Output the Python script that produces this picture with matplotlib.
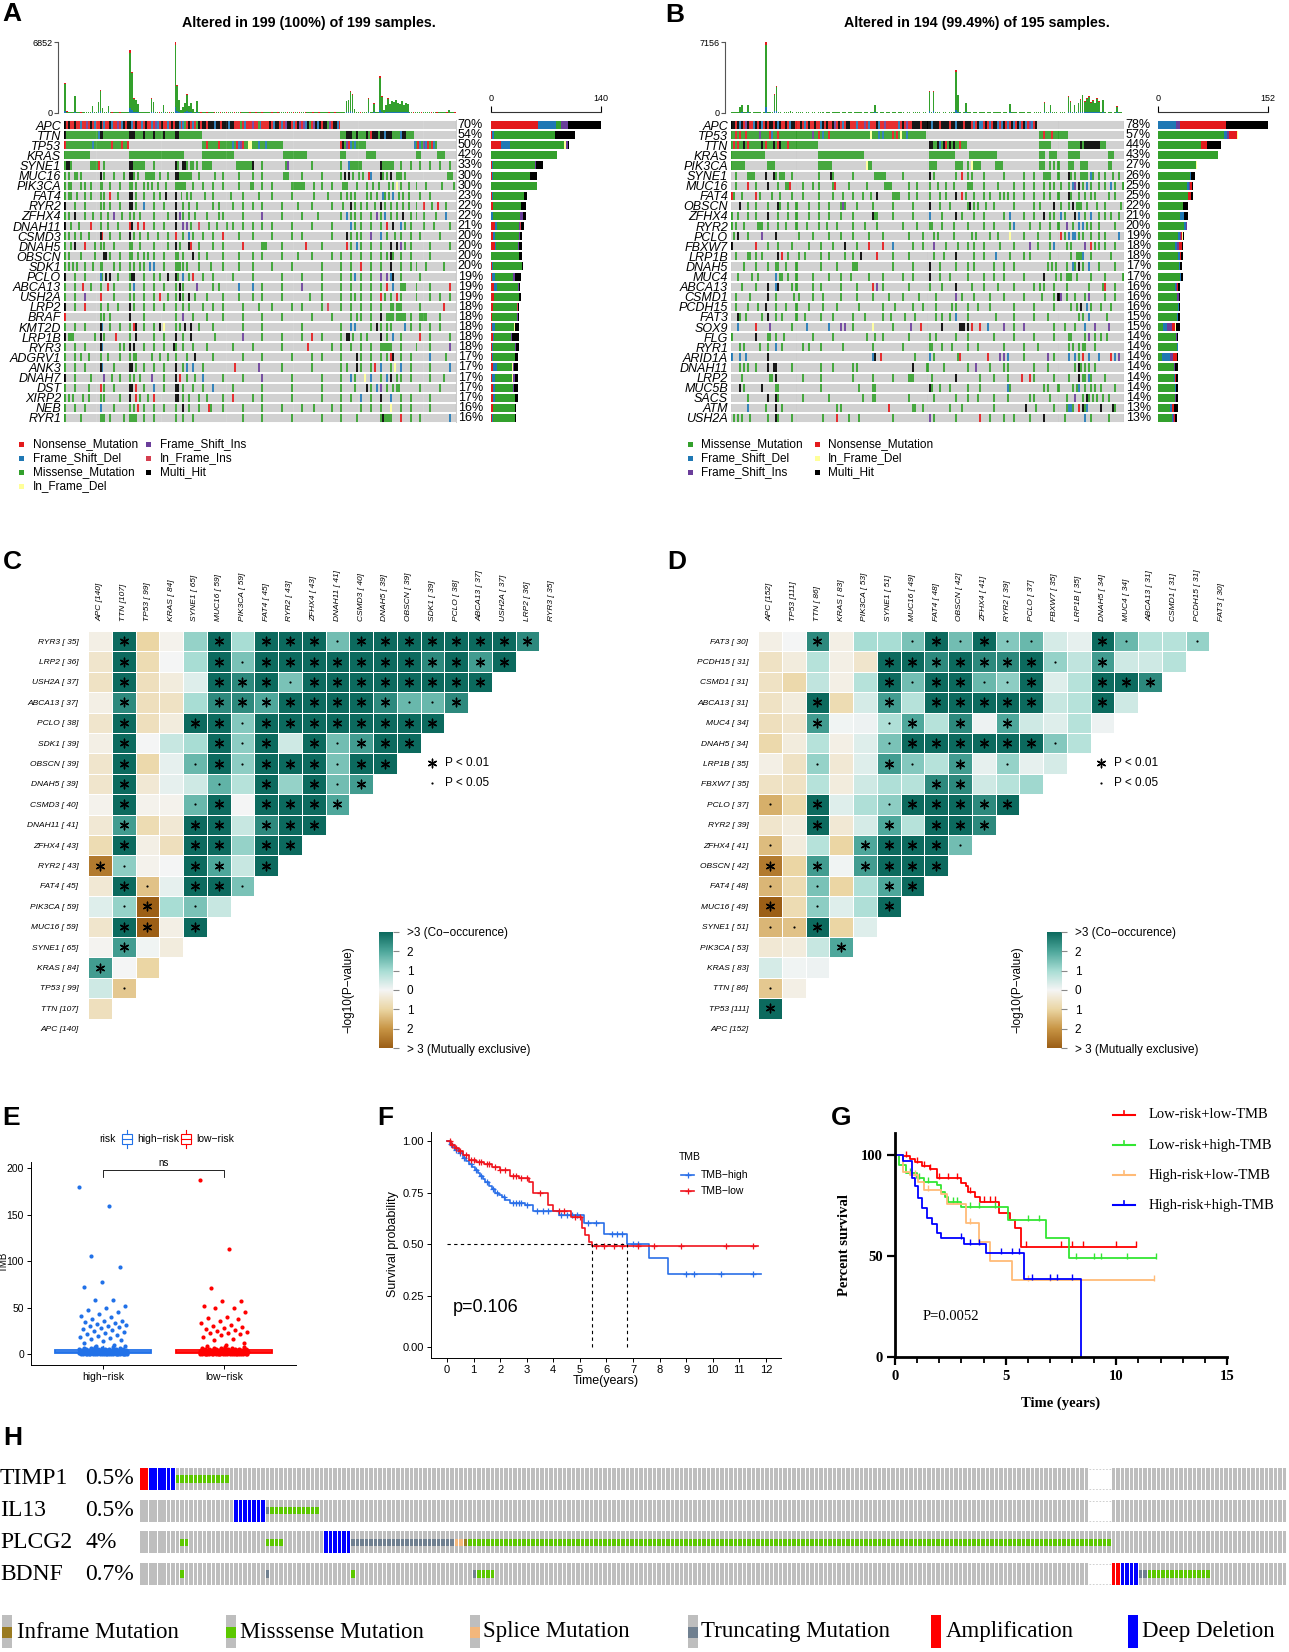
import numpy as np
import matplotlib
matplotlib.use("Agg")
import matplotlib.pyplot as plt
from matplotlib.colors import LinearSegmentedColormap, ListedColormap, Normalize
from matplotlib.patches import Rectangle

W, H = 1289, 1652
SANS = ["Liberation Sans", "DejaVu Sans"]
NARROW = ["Liberation Sans Narrow", "Liberation Sans", "DejaVu Sans"]
SERIF = ["Liberation Serif", "DejaVu Serif"]
plt.rcParams["font.family"] = SANS

# ---------------- A / B oncoplots ----------------
n_a = 199
genes_a = ["APC", "TTN", "TP53", "KRAS", "SYNE1", "MUC16", "PIK3CA", "FAT4", "RYR2", "ZFHX4",
           "DNAH11", "CSMD3", "DNAH5", "OBSCN", "SDK1", "PCLO", "ABCA13", "USH2A", "LRP2", "BRAF",
           "KMT2D", "LRP1B", "RYR3", "ADGRV1", "ANK3", "DNAH7", "DST", "XIRP2", "NEB", "RYR1"]
pct_a = ["70%", "54%", "50%", "42%", "33%", "30%", "30%", "23%", "22%", "22%", "21%", "20%", "20%",
         "20%", "20%", "19%", "19%", "19%", "18%", "18%", "18%", "18%", "18%", "17%", "17%", "17%",
         "17%", "17%", "16%", "16%"]
tmb_a = [2870, 150, 90, 80, 60, 1660, 70, 60, 50, 60, 70, 60, 55, 60, 700, 60, 60, 1100, 2240, 500,
         60, 60, 700, 60, 50, 60, 70, 60, 50, 60, 60, 70, 80, 6050, 4000, 1400, 1300, 900, 60, 60,
         60, 70, 60, 60, 1430, 1100, 60, 60, 50, 60, 800, 60, 60, 50, 60, 60, 6852, 2700, 1270, 300,
         600, 1000, 1850, 700, 1000, 400, 80, 1200, 60, 50, 60, 60, 50, 60, 70, 60, 50, 60, 60, 50,
         60, 60, 50, 60, 70, 60, 50, 60, 60, 50, 60, 60, 70, 60, 50, 60, 60, 50, 60, 60,
         50, 60, 60, 70, 60, 50, 60, 60, 50, 60, 60, 70, 60, 50, 60, 60, 50, 60, 60, 50,
         60, 60, 50, 60, 70, 60, 50, 60, 60, 50, 60, 60, 70, 60, 50, 60, 60, 50, 60, 60,
         60, 80, 100, 1200, 1300, 2100, 1800, 400, 60, 60, 50, 60, 60, 80, 1430, 100, 100, 950, 100, 100,
         3560, 1600, 300, 800, 1400, 900, 1200, 1100, 1300, 1000, 900, 1200, 800, 1000, 900, 60, 60, 50, 60, 60,
         60, 50, 60, 60, 70, 60, 50, 60, 60, 50, 60, 60, 70, 60, 50, 300, 60, 60, 50]
side_max_a = 140
rows_a = [
    "@HNHNNHNNDNNINHNDNNHNDNNHDNNINDHNHHDNHNNDNHNNDNIDNHNNDNHNHHDNDMNHNDNMHNHHNHHHDHHNHHHDHHNNNMNDNNNINNMDNNNNHNDHHNDNIHHNDNHINIDHMNIHDHNHHMINHHDN",
    "0H 1-16M 17D 18-19H 20-32M 33-35H 36-39M 40H 41-44M 45H 46-49M 50H 51-55M 56-57H 58-69M 140-142M 143-145H 146-147M 148H 149-152M 153H 154M 155N 156-158H 159M 160-161H 162D 163-165H 166-169M 170D 171-172H 173-176M",
    "0N 1-13M 14D 15-23M 24N 25-28M 29N 30-31M 32N 70-71M 72N 73-77M 78N 79-84M 85D 86M 87N 88D 89I 90N 91-92M 93-94d 95-97M 98D 99-101M 102D 103-110M 140N 141H 142M 143I 144N 145D 146M 147D 148-152M 177D 178M 179N 180D 181M 182I 183D 184N 185M 186N 187D 188M",
    "0-12M 33-60M 70-85M 111-122M 140-142M 153-157M 178-180M 189-192M",
    "0M 1-2H 3M 13-16M 17N 20M 33-34H 35-40M 45M 56H 57M 60-61H 62M 64-65M 67M 70-74M 87-94M 95H 100M 112M 113I 125M 140M 144D 145-149M 150M 160H 161-166M 170M 175M 180M 185M 190M 195M",
    "0M 2M 5-6M 8M 18H 20M 25M 30M 33-34H 35M 37M 41-45M 48M 52M 56-57H 58-64M 68M 76M 80M 88M 95M 100M 111-113M 120M 130M 140M 142H 144H 146M 149M 151M 154N 155D 160H 161M 163M 165H 168-170M 172M 194-196M",
    "0M 2-3M 8M 10M 13M 18-19M 23M 28M 33-34M 36M 40M 42M 44M 47M 51M 56-61M 65M 70M 75M 80M 88M 94-95M 100M 105M 115-121M 126M 130M 135M 141-143M 148M 153M 156M 159M 164M 166M 168d 170M 174M 178M 183M 191M 197M",
    "0M 2-3M 6M 10M 13M 18M 20M 23N 27M 33-34H 36M 40M 45M 48M 51H 56H 59M 62M 64M 71M 75M 84M 90M 98M 105M 115M 126M 133M 140M 143M 145M 147M 153M 155M 158M 161D 162M 164M 166D 169M 171M 174M 180M 185M",
    "0H 5M 10M 18M 20M 23M 28M 33-34H 36M 40D 45M 50M 56H 60M 63M 67M 75M 78M 85M 90M 95M 100M 110M 118M 125M 135M 141M 145H 147M 150M 153M 157M 160H 162M 165M 168M 171M 174M 178M 182N 186M 189N 193M",
    "0M 2M 5H 10M 14M 18M 22M 25I 29M 33M 35M 38M 45M 52M 56H 58I 60M 63M 66M 72M 78M 80M 90M 100I 110M 120M 128M 140M 143D 145M 147M 150M 155M 158I 160M 162D 165M 168M 171H 175M 178M 182M 188M 193D",
    "0H 3M 7M 13N 18M 22M 27M 33N 34H 37N 40N 45M 50M 56H 60I 62I 64M 68i 73M 77M 82M 85M 90M 95M 100M 105M 115M 125M 135M 145D 147M 150M 155M 160M 163N 166H 170D 172M 175M 182M 187M 195M",
    "0M 2M 5M 8M 12M 18H 19N 23M 28M 33H 35M 38M 42M 47M 52M 56N 60M 63D 65M 70M 75M 80N 88M 95M 105M 115M 120M 135M 143H 145M 148M 150M 155I 160D 163M 167M 170M 175M 180M 190M",
    "0M 3M 5H 10N 15M 18M 20M 25M 33-34M 38M 45M 52M 56H 58M 63H 64N 68M 75M 80M 90N 100-102M 110M 122N 130M 143N 145M 148D 150M 155M 160M 165H 168H 170I 172M 175M 185M 195M",
    "0M 2M 8M 15M 20-21H 23M 28M 33-34M 37M 40M 42M 45M 50M 56-57M 60M 65H 68M 72M 80M 88M 95M 100M 110M 118M 125M 135M 140M 145M 150M 155M 160M 163M 165H 166M 170M 175M 185M",
    "0M 2M 4M 6M 10M 14M 18-19M 25M 28M 33M 35M 38M 40M 43D 45D 50M 56-58M 60M 62M 68M 74M 80M 88M 95M 105M 115M 130M 140M 145M 150N 155M 160M 165H 170M 175M 178M 183M 192M",
    "0H 5M 10M 18D 19M 21H 23H 27M 33M 34-35H 40M 45M 48M 52H 56H 57M 60D 63M 65N 70M 75M 85M 95M 110M 120M 130M 140M 145M 147D 150M 155M 160I 163I 165D 166H 170M 180M",
    "0M 5M 9N 13M 18M 22N 25M 33M 35D 40M 45M 50M 56M 58H 60M 67I 75M 78M 88D 95D 100M 110M 120I 130M 140M 145M 150M 155M 160M 163N 166D 170-172M 178M 185M 195N",
    "0M 5M 10I 18N 25M 33M 35M 40M 45M 48N 52M 56M 58H 60M 63H 66M 72M 80M 88M 95M 100M 110M 124M 130M 140M 145M 147M 150M 155M 160N 162M 165M 168N 170M 178M 185M 190M 195M",
    "0H 5M 10N 18M 22M 27M 33H 35M 40M 45M 50M 56M 60M 63M 70M 75M 80M 90M 98M 105M 115M 120M 130M 133i 140M 145M 150M 155M 160M 165-166M 168-170M 180M 192N",
    "0N 18M 20M 23M 33H 40M 56M 60I 65M 72M 80M 90M 100M 110M 125M 135M 145M 148M 150M 155M 160H 163-166M 168-172M 175M 180-183M 190M",
    "0M 5M 10M 18H 19D 23M 28M 33M 35N 36H 40M 45M 48H 50d 56M 58M 61H 64H 68M 75M 90M 100M 120M 140M 145D 147D 155M 158H 160M 163M 165M 172D 175M 180M 185M 190M",
    "0H 2-4M 15M 18H 20M 26N 33M 36H 45M 50M 56H 60M 64H 76M 90I 100M 110M 120M 125N 130M 140M 143-144H 146M 150M 153M 160H 163M 166D 170M 180N 185M 195M",
    "0M 5M 10M 18H 19D 28M 30M 33H 35H 40M 45M 50M 55H 56M 60M 65M 72M 85M 95M 110M 123N 135M 140M 145M 150M 155M 160-165M 170M 178M 185M 195I",
    "0M 5M 8M 12M 18M 22M 28M 33M 35-36M 44M 48M 52M 56M 62M 66H 75M 90M 100M 115M 125M 130M 140M 148H 150M 155M 160M 163M 165N 166H 170M 175M 185D 193M",
    "0M 5M 10M 18H 19D 25M 33-34H 36M 40M 45M 50M 56H 60M 62D 65D 70M 86N 98I 110M 125M 140M 143M 148H 150M 155M 157N 160D 165M 167d 170D 175M 185M 195D",
    "0H 5M 13M 20I 24M 28M 33M 35M 38M 44I 50M 56H 58N 62M 66M 70D 80M 90M 100I 115M 130M 140M 145D 147M 152d 155D 160M 163D 165H 168M 170M 175M 185M 192M",
    "0M 5M 12M 18N 20M 25M 33-34H 36N 40M 45D 50M 56-57H 60M 65M 70M 75D 85M 100M 115M 130M 140M 147M 153H 155M 158D 160I 163M 166M 168-169M 180M 190M",
    "0M 2M 4M 9M 12M 18M 20M 28M 33H 36N 38M 42M 45N 56-57H 60M 63M 68M 72M 80M 85N 95M 100M 115M 130M 140M 145M 150D 155M 160H 165D 170M 175M 185M",
    "0M 5M 10M 18D 25M 33M 35M 37N 40M 45M 50M 56M 60H 63M 68M 73N 74M 80M 90M 100M 110M 120M 126M 135M 140M 150M 155M 160M 165d 170M 175M 185M",
    "0M 8M 18-20M 23M 30M 33-36M 40M 45M 56M 60M 65M 90M 100M 115M 130M 140M 148M 160M 161H 162M 163-165M 170N 175M 180M 195D",
]

n_b = 195
genes_b = ["APC", "TP53", "TTN", "KRAS", "PIK3CA", "SYNE1", "MUC16", "FAT4", "OBSCN", "ZFHX4",
           "RYR2", "PCLO", "FBXW7", "LRP1B", "DNAH5", "MUC4", "ABCA13", "CSMD1", "PCDH15", "FAT3",
           "SOX9", "FLG", "RYR1", "ARID1A", "DNAH11", "LRP2", "MUC5B", "SACS", "ATM", "USH2A"]
pct_b = ["78%", "57%", "44%", "43%", "27%", "26%", "25%", "25%", "22%", "21%", "20%", "19%", "18%",
         "18%", "17%", "17%", "16%", "16%", "16%", "15%", "15%", "14%", "14%", "14%", "14%", "14%",
         "14%", "14%", "13%", "13%"]
tmb_b = [100, 80, 70, 90, 610, 840, 60, 70, 840, 60, 50, 60, 70, 60, 60, 50, 60, 7156, 60, 60,
         60, 1920, 2700, 80, 60, 50, 60, 70, 60, 170, 60, 50, 60, 60, 70, 60, 50, 60, 60, 50,
         60, 60, 50, 60, 70, 60, 50, 60, 60, 50, 60, 60, 70, 60, 50, 60, 60, 50, 60, 60,
         50, 60, 60, 70, 60, 50, 60, 60, 50, 60, 60, 840, 60, 50, 60, 60, 50, 60, 60, 50,
         60, 60, 50, 60, 70, 60, 50, 60, 60, 50, 60, 60, 70, 60, 50, 60, 60, 50, 2190, 60,
         2190, 60, 70, 60, 50, 60, 60, 50, 60, 60, 70, 4320, 1860, 60, 50, 60, 1010, 60, 60, 50,
         60, 60, 50, 60, 70, 60, 50, 60, 60, 50, 60, 60, 70, 60, 50, 60, 60, 50, 950, 60,
         60, 60, 50, 60, 70, 60, 50, 60, 60, 50, 60, 60, 70, 60, 50, 1080, 60, 60, 840, 60,
         60, 60, 50, 60, 70, 60, 50, 1690, 1180, 60, 840, 60, 1000, 1400, 1860, 1200, 1500, 1700, 1100, 1300,
         1000, 1500, 1200, 60, 1350, 60, 50, 60, 60, 50, 60, 675, 70, 60, 50]
side_max_b = 152
rows_b = [
    "@HHNHDHNIHNNDHNHDNHNHHNHDHNNHNDHHNNHNDNHNNHNNDHNHNNHINHNDNHHNNNDNNNINDNNNHDNNINNNNNNDNHNINNHHHHNHHHHDHHHNHHHHNHHDHHHNHHHNDNHDDNHNDNHHDNDHNDNHDNHDNHDNIDNH",
    "0-1M 2N 3M 4N 5-6M 7N 8-13M 14I 15-18M 19N 20D 21-22M 23N 24-39M 40I 41-42M 43N 44M 45D 46-47M 48N 49-68M 69d 70-72M 73D 74M 75D 76-79M 80N 81M 82N 83M 84d 85-86M 87D 88-96M 153-154M 155N 156-158M 159N 160-166M",
    "0M 1N 2M 3N 4-5M 6H 7M 8N 9-14M 15H 16M 17N 18-20M 21H 22M 23N 24H 25-27M 28N 29-42M 98-99H 100-101M 102H 103D 104M 105H 106N 107M 108H 109M 110H 111-112M 113N 114-116M 153-158M 167-172M 173H 174M 175-182H 183-185M",
    "0-16M 43-65M 98-110M 118-131M 153-155M 158-161M 167-172M 187-189M",
    "0-6M 18-21M 43-49M 67d 68-69M 98-101M 111-114M 117M 119d 120-123M 131-134M 153-155M 158M 160M 162M 167-169M 173-176M 187-188M",
    "2M 8-11M 17H 21H 22M 24-26M 30M 43M 49H 50M 60M 71-76M 85M 98H 100M 111M 114N 117M 119M 125M 135M 145M 150M 155-158M 162M 167H 168M 170M 173-176M 178D 179M 182M 185M 189M 192M",
    "2M 8N 12M 18H 23M 27-28M 29N 35M 40M 43M 50M 51N 58M 67M 76-79M 88M 92M 98M 102M 106M 110M 117-119M 125M 132M 140M 145M 150M 155M 158M 160M 163M 167M 169D 170I 172H 174M 176D 178M 182M 185M 188D 190M 194M",
    "0N 1M 5M 12N 14M 20M 24M 30M 35M 43M 50M 55M 60M 65M 69M 72H 80-83M 88M 92M 98M 103M 106M 111H 114N 116M 120M 125M 128M 133M 135M 137M 140M 145M 150M 155M 158M 162M 167H 168M 172M 175M 178M 180M 187M 190M",
    "4H 8M 12M 18M 23H 24M 28M 32M 38M 43M 48M 54M 55I 56M 62M 70M 80M 90M 98H 103M 108M 117M 118H 120M 122M 126M 130M 140M 150M 153M 160H 163M 167M 169H 171-173M 176M 181M 185M 193M",
    "0M 3M 8M 12M 18H 23M 28M 32M 38M 43M 48M 54M 60M 70H 71-72M 80M 90M 98D 104M 111H 114M 120M 125M 135M 138D 145M 150M 155H 158M 160M 163D 165M 170H 172D 175M 178D 182M 185M 188M 192M",
    "0M 2M 6M 13-15M 18M 23M 27M 32M 37M 43M 47M 52M 60M 66M 72M 85M 92M 98-99M 104M 110M 117M 125M 130M 138M 140D 148M 153M 158M 162M 166I 169M 172D 174D 176M 178M 182M 190M",
    "1M 3H 8M 15I 22H 33M 40M 48M 54M 60M 68M 75M 88M 95M 100M 102M 110M 119M 121M 128M 132M 138d 145M 152M 158M 163N 165M 167D 169-170D 172M 174M 178M 182M 185M 192D",
    "0H 12N 18M 23M 30M 38M 44M 50M 56H 62M 68N 75N 80D 90M 95M 100I 106M 112M 117M 120M 125M 133M 140M 148I 152M 158M 160D 166M 168M 175I 178N 180M 182M 185M 190M",
    "2M 8-9M 12M 15M 23H 25N 28M 33M 36M 44M 48M 56M 60M 64H 72N 80M 88M 100M 105M 111H 120M 125M 131D 138M 145M 148M 158M 168M 171-173M 174D 178M 188M",
    "6M 12M 18M 22-23M 27M 32M 44M 52M 60-62M 80M 90M 98H 103M 111M 117M 120M 130M 135M 140M 157M 159M 161M 166M 169D 170M 172H 174M 177D 182M 190M",
    "3M 10M 13M 22D 24-25M 28M 32M 40M 48M 54M 59M 68M 75M 85M 90M 98H 103M 108M 117M 125M 130M 135M 145M 155H 161M 163M 166M 167-168M 171M 178M 185M 194M",
    "5M 12M 18H 22D 23H 30M 32M 40M 44M 54M 62M 70N 72I 75M 88M 98M 104M 111H 119M 125M 132M 140M 150M 153M 155M 160M 166M 177M 184M 185N 190M",
    "2M 9M 18H 22M 31M 33M 40M 45M 54M 62M 70M 78M 85M 93M 101M 111I 114M 120M 128M 135M 145M 154M 160M 162H 163I 166M 170M 175M 177I 185M 190M",
    "2M 8M 13M 17H 22M 27M 32M 38M 45M 52M 63M 75M 81M 90M 95M 101M 109M 111M 117M 122M 128M 140M 150M 160M 168M 171M 173H 176D 178M 183M 188M",
    "3H 4M 7M 15M 18H 22M 25M 32M 36M 44M 50M 60M 66M 75M 79M 86M 91M 101M 104M 108M 111D 117M 131M 140M 150M 157M 172M 174M 177D 186M",
    "3D 12N 19I 30M 37D 48D 54I 56I 60M 70d 80M 89I 94N 104H 113-115H 117H 119N 123N 127D 135I 140M 145I 160M 165M 170M 175D 180I 187I",
    "0M 12H 18-19M 22M 26M 40M 50M 67M 71M 75M 88M 98M 101M 111M 117M 130M 140M 150M 160M 167-168M 175M 177I 180M 183M 186M",
    "4M 6M 14M 18M 22D 25M 35M 38M 44M 55M 70M 85M 98-99M 104M 109M 117M 122M 135M 145M 152M 167M 169M 172M 174-175M 180M",
    "0D 4D 7D 18H 70D 71H 74N 91M 98D 100M 112M 113N 127N 133I 135I 137D 145M 157I 160M 167D 170D 172M 174N 177D 182D 188N 190D 192I",
    "4M 6M 8M 12M 18H 21-22H 30M 44M 50M 60M 62M 90H 97M 105M 117M 121I 128M 135M 137M 150M 157M 170M 172H 173M 175M 177M 180M",
    "5M 19-20M 22H 35M 44M 60M 70M 80M 88-90M 99M 111H 123M 130M 137M 144N 148N 150M 160M 167M 172H 174-175M 177D 178M 185M",
    "4H 6M 15H 22-23M 44M 63M 70-71M 98H 99M 103M 108M 117M 123M 137D 138M 155M 157M 162M 169M 171M 172D 175M 178M 180M 183M 190M",
    "8M 18H 22H 23M 35M 48M 65M 70-71M 88M 100M 111M 117M 122M 130M 137M 148M 150M 158M 166M 170I 174M 176H 177M 179M 181M 184M 187M",
    "8D 17M 22H 25M 52M 54M 78N 90-91M 95M 108M 114M 130M 146H 151M 160M 166M 167-168D 169M 172N 174H 175M 176D 183H 189H 190M",
    "1M 3M 5M 9M 18M 22H 23M 30M 45M 52N 58M 63M 80M 98I 100M 111M 123N 128M 135M 140M 148M 155H 165M 175D 178M 187M",
]

vc_color = {"N": "#E31A1C", "D": "#1F78B4", "M": "#33A02C", "d": "#FFFF99",
            "I": "#6A3D9A", "i": "#D53E4F", "H": "#000000"}
vc_name = {"N": "Nonsense_Mutation", "D": "Frame_Shift_Del", "M": "Missense_Mutation",
           "d": "In_Frame_Del", "I": "Frame_Shift_Ins", "i": "In_Frame_Ins", "H": "Multi_Hit"}
legend_a = [["N", "D", "M", "d"], ["I", "i", "H"]]
legend_b = [["M", "D", "I"], ["N", "d", "H"]]

# ---------------- C / D somatic interactions ----------------
int_genes_c = ["APC", "TTN", "TP53", "KRAS", "SYNE1", "MUC16", "PIK3CA", "FAT4", "RYR2", "ZFHX4",
               "DNAH11", "CSMD3", "DNAH5", "OBSCN", "SDK1", "PCLO", "ABCA13", "USH2A", "LRP2", "RYR3"]
int_counts_c = [140, 107, 99, 84, 65, 59, 59, 45, 43, 43, 41, 40, 39, 39, 39, 38, 37, 37, 36, 35]
int_rows_c = [
    "-0.2 3* -1 -0.1 1.2 3* 1 3* 3* 3* 1.6o 3* 3* 3* 3* 3* 3* 3* 2.5*",
    "-0.5 3* -0.8 0 1 3* 1.5o 3* 3* 3* 3* 3* 3* 3* 2.5* 3* 2.2* 3*",
    "-0.6 3* -0.7 -0.3 0.3 3* 2.5* 3* 1.5o 3* 3* 3* 3* 3* 3* 3* 3*",
    "-0.2 2.5* -0.7 -0.6 1 2.5* 2.5* 2* 3* 3* 3* 3* 2.5* 1.7o 1.7o 2.5*",
    "-0.5 3* -0.7 -0.3 3* 3* 1.4o 3* 3* 3* 3* 3* 3* 3* 3*",
    "-0.2 3* 0 0.6 1 3* 1.3o 3* 0.5 3* 1.6o 2.2* 3* 3*",
    "-0.5 3* -0.9 0.2 1.7o 3* 1.3o 3* 3* 3* 1.5o 3* 3*",
    "-0.5 3* -0.4 0.2 0.5 1.8o 0.8 3* 1.2 3* 1.6o 2.2*",
    "-0.1 3* -0.1 -0.1 1.7o 3* 0 3* 3* 3* 2*",
    "-0.4 2.2* -0.8 -0.4 3* 3* 0.6 2.5* 3* 3*",
    "-0.8 3* -0.2 -0.7 3* 3* 1.2 3* 3*",
    "-2.5* 1.3o -0.1 0 3* 2* 0.6 3*",
    "-0.4 3* -1.3o 0.2 3* 3* 1.5o",
    "0.3 1.2o -3* 1 1.5o 0.6",
    "-0.5 3* -3* -0.2 3*",
    "-0.05 2.2* 0.05 -0.3",
    "2.2* 0 -1",
    "0.5 -1.2o",
    "-0.7",
]
int_genes_d = ["APC", "TP53", "TTN", "KRAS", "PIK3CA", "SYNE1", "MUC16", "FAT4", "OBSCN", "ZFHX4",
               "RYR2", "PCLO", "FBXW7", "LRP1B", "DNAH5", "MUC4", "ABCA13", "CSMD1", "PCDH15", "FAT3"]
int_counts_d = [152, 111, 86, 83, 53, 51, 49, 48, 42, 41, 39, 37, 35, 35, 34, 34, 31, 31, 31, 30]
int_rows_d = [
    "-0.2 0 2.5* -0.2 1 1 1.5o 3* 1.6o 3* 1.4o 1.7o 0.4 0.2 3* 1.7o 0.8 0.8 1.2o",
    "-0.6 -0.3 0.8 -0.2 -0.5 3* 3* 2.5* 3* 2.5* 2.5* 3* 1.2o 0.7 2.2* 0.5 0.5 0.8",
    "-0.6 -0.9 0.7 -0.2 0.8 3* 1.6o 3* 3* 1.7o 1.3o 3* 0.3 0.8 3* 3* 2.5*",
    "-0.6 -0.3 3* -0.8 0.4 2.2* 0.8 3* 3* 3* 3* 3* 0.6 0.8 3* 0.5",
    "-0.7 -0.5 2.2* 0.05 0.1 0.9o 2* 0.8 2.5* 0.1 2* 0.5 0.3 0.8 0.1",
    "-0.9 -0.3 0.8 -0.2 0.3 1.5o 3* 3* 3* 3* 3* 3* 1.4o 0.8",
    "-0.2 -0.6 1.2o -0.4 0.3 2.2* 1.4o 0.8 2.2* 0.2 1.2o 0.2 0.4",
    "-0.6 -0.6 0.8 -0.3 0.5 0.9 0.8 2.5* 2.5* 0.5 0.8 1.1",
    "-1.6o -0.9 3* 0.3 0.9 1.3o 3* 3* 3* 2.5* 3*",
    "-0.5 -0.3 3* -0.4 0.4 2* 0.8 3* 3* 2.5*",
    "-1.4o -0.3 0.8 -1 2* 3* 3* 3* 1.6o",
    "-2.5* -1 2.2* 0.05 2.2* 3* 3* 3*",
    "-1.5o -0.8 1.5o -1 0.9 2* 3*",
    "-3* -0.8 1.3o 0.3 0.9 3*",
    "-1.5o -1.3o 3* -1 0.3",
    "-0.4 -0.3 0.6 2*",
    "0.4 0.05 0.1",
    "-1.2o -0.2",
    "3*",
]
cb_labels = ["> 3 (Mutually exclusive)", "2", "1", "0", "1", "2", ">3 (Co\u2212occurence)"]

# ---------------- E: TMB by risk group ----------------
hi_large = [180, 160, 106, 94, 78, 72, 58, 58, 52, 50, 47, 45, 43, 41, 40, 38, 36, 35, 34, 33, 32,
            31, 30, 30, 29, 28, 27, 26, 25, 24, 22, 21, 20, 19, 18, 17, 16, 15, 14, 12, 10, 8]
lo_large = [188, 113, 71, 57, 57, 52, 50, 49, 45, 40, 39, 38, 36, 33, 31, 30, 29, 28, 27, 26, 25,
            24, 23, 22, 21, 20, 18, 16, 15, 12, 10]
small_vals = [0, 1, 2, 3, 4, 5, 6, 7, 8]
hi_small_counts = [25, 50, 50, 40, 20, 8, 4, 2, 1]
lo_small_counts = [25, 52, 50, 38, 20, 8, 4, 2, 1]

# ---------------- F: KM by TMB ----------------
km_hi_t = [0, 0.1, 0.2, 0.3, 0.45, 0.6, 0.7, 0.83, 0.95, 1.05, 1.15, 1.23, 1.35, 1.45, 1.6, 1.7, 1.8,
           1.95, 2.07, 2.2, 2.37, 2.95, 3.25, 4.2, 5.15, 5.9, 6.77, 7.6, 8.3]
km_hi_s = [1.0, 0.985, 0.97, 0.955, 0.94, 0.92, 0.905, 0.89, 0.875, 0.86, 0.845, 0.83, 0.815, 0.80,
           0.78, 0.765, 0.75, 0.74, 0.73, 0.715, 0.70, 0.69, 0.66, 0.64, 0.60, 0.55, 0.50, 0.43, 0.355]
km_hi_end = 11.8
km_hi_cens = [0.15, 0.25, 0.35, 0.5, 0.65, 0.9, 1.1, 1.3, 1.5, 1.75, 1.9, 2.15, 2.5, 2.6, 2.7, 2.8,
              3.0, 3.4, 3.6, 3.8, 4.3, 4.5, 4.7, 4.9, 5.3, 5.6, 6.2, 6.4, 6.6, 7.0, 7.2, 9.0, 9.3,
              10.3, 11.5]
km_lo_t = [0, 0.15, 0.3, 0.45, 0.6, 0.83, 1.1, 1.4, 1.7, 1.98, 2.37, 2.7, 3.1, 3.25, 3.8, 4.0, 4.65,
           5.07, 5.2, 5.35, 5.45]
km_lo_s = [1.0, 0.98, 0.965, 0.95, 0.93, 0.91, 0.90, 0.89, 0.875, 0.86, 0.83, 0.82, 0.80, 0.75, 0.69,
           0.66, 0.63, 0.58, 0.545, 0.51, 0.49]
km_lo_end = 11.7
km_lo_cens = [0.1, 0.2, 0.35, 0.5, 0.7, 0.9, 1.0, 1.2, 1.3, 1.5, 1.6, 1.8, 2.0, 2.2, 2.5, 2.6, 2.8,
              3.0, 3.5, 4.2, 4.4, 4.8, 5.0, 5.6, 5.9, 6.3, 6.6, 7.2, 7.8, 8.8, 10.5, 11.5]

# ---------------- G: KM by risk + TMB ----------------
g_labels = ["Low-risk+low-TMB", "Low-risk+high-TMB", "High-risk+low-TMB", "High-risk+high-TMB"]
g_colors = ["#FF0000", "#33E633", "#FFBB77", "#0000FF"]
g_t = [[0, 0.38, 0.68, 0.9, 1.2, 1.6, 1.9, 3.0, 3.2, 3.3, 3.6, 3.85, 4.7, 5.2, 5.4, 5.7],
       [0, 0.2, 0.5, 1.0, 1.3, 1.9, 2.1, 2.25, 2.4, 3.0, 5.1, 6.8, 7.85],
       [0, 0.38, 0.68, 1.05, 1.3, 2.1, 2.33, 3.2, 3.8, 4.3, 5.3],
       [0, 0.38, 0.75, 0.9, 1.05, 1.2, 1.43, 1.65, 1.9, 2.1, 3.1, 4.1, 5.85, 8.4]]
g_s = [[100, 99.5, 98, 96.5, 94.5, 93, 88.6, 86, 84.5, 81.7, 79.2, 77, 71.2, 68, 64, 54.6],
       [100, 95, 91, 88.6, 86.6, 85, 82, 79.2, 76.7, 74.3, 67.8, 58.9, 49],
       [100, 91.6, 90, 86.6, 82.7, 81, 76, 66.3, 57, 47.5, 38],
       [100, 97, 88.6, 84.5, 79, 74, 69, 66, 61.5, 59, 56, 51.5, 38.6, 0]]
g_end = [10.9, 11.8, 11.7, 8.4]
g_cens = [[0.5, 1.0, 1.3, 1.6, 2.0, 2.4, 2.8, 3.4, 4.0, 4.3, 4.5, 5.9, 7.5, 8.0, 8.5, 10.0, 10.9],
          [0.7, 1.1, 1.5, 2.6, 2.8, 3.4, 3.8, 4.5, 6.0, 6.5, 8.2, 9.0, 9.3, 10.5, 11.8],
          [0.9, 1.5, 3.4, 6.0, 7.0, 11.7],
          [3.0, 3.4, 3.8, 4.8, 5.3, 5.6, 6.2, 7.0, 7.3, 8.0]]

# ---------------- H: oncoprint ----------------
h_genes = ["TIMP1", "IL13", "PLCG2", "BDNF"]
h_pct = ["0.5%", "0.5%", "4%", "0.7%"]
h_ncols = 255
h_specs = ["0-1A 2-7X 8-19M",
           "21-27X 28T 29-39M",
           "9-10M 28-31M 41-46X 47-69T 70-71S 72F 73-215M",
           "9M 28T 47M 74T 75-78M 216-217A 218-221X 222-223T 224-237M"]
h_unprofiled = [(211, 215), (211, 215), None, (211, 215)]
h_color = {"F": "#9A7B21", "M": "#5CC800", "S": "#F3B77C", "T": "#708090", "A": "#FF0000", "X": "#0000FF"}
h_legend = [("Inframe Mutation", "F", 2, 17), ("Misssense Mutation", "M", 226, 240),
            ("Splice Mutation", "S", 470, 483), ("Truncating Mutation", "T", 688, 701),
            ("Amplification", "A", 931, 946), ("Deep Deletion", "X", 1128, 1142)]

# =====================================================================
fig = plt.figure(figsize=(W / 100, H / 100), dpi=100)


def px_axes(x0, y0, x1, y1):
    return fig.add_axes([x0 / W, 1 - y1 / H, (x1 - x0) / W, (y1 - y0) / H])


ov = px_axes(0, 0, W, H)
ov.set_xlim(0, W)
ov.set_ylim(H, 0)
ov.axis("off")
ov.set_zorder(20)


def tick_font(ax, family, size, weight="normal"):
    for lab in ax.get_xticklabels() + ax.get_yticklabels():
        lab.set_fontfamily(family)
        lab.set_fontsize(size)
        lab.set_fontweight(weight)


def parse_row(spec, n):
    row = ["."] * n
    if spec.startswith("@"):
        for k, c in enumerate(spec[1:n + 1]):
            row[k] = c
        return row
    for tok in spec.split():
        t, r = tok[-1], tok[:-1]
        if "-" in r:
            a, b = r.split("-")
        else:
            a = b = r
        for k in range(int(a), int(b) + 1):
            if k < n:
                row[k] = t
    return row


def oncoplot(x0, x1, n, genes, pct, tmb, rows, sx0, sx1, side_max, order, title, title_x,
             legend_cols, legend_x):
    ng = len(genes)
    mat = [parse_row(r, n) for r in rows]
    codes = ".NDMdIiH"
    Z = np.array([[codes.index(c) for c in row] for row in mat])
    cmap = ListedColormap(["#CDCDCD"] + [vc_color[c] for c in codes[1:]])

    ax = px_axes(x0, 120, x1, 423)
    ax.imshow(Z, cmap=cmap, vmin=-0.5, vmax=7.5, aspect="auto", interpolation="nearest",
              extent=(0, n, ng, 0))
    ax.vlines(np.arange(1, n), 0, ng, colors="white", lw=0.3, alpha=0.45)
    for k in range(ng + 1):
        ax.axhline(k, color="white", lw=1.4)
    ax.set_xlim(0, n)
    ax.set_ylim(ng, 0)
    for s in ax.spines.values():
        s.set_visible(False)
    ax.set_xticks([])
    ax.set_yticks(np.arange(ng) + 0.5)
    ax.set_yticklabels(genes, fontstyle="italic", fontsize=9)
    ax.tick_params(axis="y", length=0, pad=2)
    for i, p in enumerate(pct):
        ax.text(n + 0.8, i + 0.5, p, fontsize=9, va="center", ha="left", clip_on=False)

    # mutation burden bars on top
    at = px_axes(x0, 42, x1, 113)
    tv = np.array(tmb, float)
    xs = np.arange(n) + 0.5
    at.bar(xs, tv * 0.08, width=0.8, color=vc_color["D"], linewidth=0)
    at.bar(xs, tv * 0.88, bottom=tv * 0.08, width=0.8, color=vc_color["M"], linewidth=0)
    at.bar(xs, tv * 0.04, bottom=tv * 0.96, width=0.8, color=vc_color["N"], linewidth=0)
    at.set_xlim(0, n)
    at.set_ylim(0, tv.max())
    for k in ("top", "right", "bottom"):
        at.spines[k].set_visible(False)
    at.spines["left"].set_position(("outward", 4))
    at.spines["left"].set_color("#555555")
    at.set_xticks([])
    at.set_yticks([0, tv.max()])
    at.set_yticklabels(["0", str(int(tv.max()))], fontsize=6.5)
    at.tick_params(axis="y", length=3, color="#555555", pad=1)

    # side bar of variant counts
    asd = px_axes(sx0, 120, sx1, 423)
    left = np.zeros(ng)
    for c in order:
        cnt = np.array([row.count(c) for row in mat], float)
        asd.barh(np.arange(ng) + 0.5, cnt, left=left, height=0.8, color=vc_color[c], linewidth=0)
        left += cnt
    asd.set_ylim(ng, 0)
    asd.set_xlim(0, side_max)
    for k in ("bottom", "right", "left"):
        asd.spines[k].set_visible(False)
    asd.spines["top"].set_position(("outward", 6))
    asd.spines["top"].set_color("#333333")
    asd.xaxis.tick_top()
    asd.set_xticks([0, side_max])
    asd.set_xticklabels(["0", str(side_max)], fontsize=6.5)
    asd.tick_params(axis="x", length=4, pad=2)
    asd.set_yticks([])

    ov.text(title_x, 23, title, fontsize=10.3, fontweight="bold", ha="center", va="center")
    for ci, col in enumerate(legend_cols):
        mx, tx = legend_x[ci]
        for ri, c in enumerate(col):
            y = 444 + 14 * ri
            ov.add_patch(Rectangle((mx - 2.5, y - 2.5), 5, 5, color=vc_color[c], lw=0))
            ov.text(tx, y, vc_name[c], fontsize=8.5, va="center", ha="left")


oncoplot(64, 456, n_a, genes_a, pct_a, tmb_a, rows_a, 491, 601, side_max_a,
         ["N", "D", "M", "d", "I", "i", "H"], "Altered in 199 (100%) of 199 samples.", 309,
         legend_a, [(21, 33), (148, 160)])
oncoplot(731, 1124, n_b, genes_b, pct_b, tmb_b, rows_b, 1158, 1268, side_max_b,
         ["M", "D", "I", "N", "d", "H"], "Altered in 194 (99.49%) of 195 samples.", 977,
         legend_b, [(690, 701), (817, 828)])

# ---------------- C / D ----------------
int_cmap = LinearSegmentedColormap.from_list(
    "brbg", ["#9C5F16", "#C99646", "#EBD6A4", "#F5F5F5", "#A8DDD4", "#4FA89C", "#0C6A5E"])
CW, CH = 23.75, 20.4


def interaction(x0, genes, counts, rows, star_x, cb_x, cb_lab_x):
    n = len(genes)
    Z = np.full((n, n), np.nan)
    sig = np.zeros((n, n), int)
    for r, spec in enumerate(rows):
        for j, tok in enumerate(spec.split()):
            s = 0
            if tok.endswith("*"):
                s, tok = 2, tok[:-1]
            elif tok.endswith("o"):
                s, tok = 1, tok[:-1]
            Z[r, j] = float(tok)
            sig[r, j] = s
    ax = px_axes(x0, 631, x0 + n * CW, 631 + n * CH)
    ax.pcolormesh(np.arange(n + 1), np.arange(n + 1), np.ma.masked_invalid(Z), cmap=int_cmap,
                  norm=Normalize(-3, 3), edgecolors="white", linewidth=0.7)
    rr, cc = np.nonzero(sig == 2)
    ax.scatter(cc + 0.5, rr + 0.5, marker=(6, 2, 0), s=38, c="black", linewidths=1.0)
    rr, cc = np.nonzero(sig == 1)
    ax.scatter(cc + 0.5, rr + 0.5, marker="o", s=2.5, c="black", linewidths=0)
    ax.set_xlim(0, n)
    ax.set_ylim(n, 0)
    labels = [f"{g} [{c:3d}]" for g, c in zip(genes, counts)]
    ax.xaxis.tick_top()
    ax.set_xticks(np.arange(n) + 0.5)
    ax.set_xticklabels(labels, rotation=90, fontsize=6, fontstyle="italic")
    ax.set_yticks(np.arange(n) + 0.5)
    ax.set_yticklabels(labels[::-1], fontsize=6, fontstyle="italic")
    ax.tick_params(length=0, pad=7)
    for s in ax.spines.values():
        s.set_visible(False)

    ov.scatter([star_x], [763], marker=(6, 2, 0), s=38, c="black", linewidths=1.0)
    ov.text(star_x + 13, 763, "P < 0.01", fontsize=8.5, va="center")
    ov.scatter([star_x], [783], marker="o", s=2.5, c="black", linewidths=0)
    ov.text(star_x + 13, 783, "P < 0.05", fontsize=8.5, va="center")

    cb = px_axes(cb_x, 932, cb_x + 14, 1048)
    cb.imshow(np.linspace(3, -3, 200)[:, None], aspect="auto", cmap=int_cmap, norm=Normalize(-3, 3),
              extent=(0, 1, -3, 3))
    cb.set_xticks([])
    cb.yaxis.tick_right()
    cb.set_yticks(range(-3, 4))
    cb.set_yticklabels(cb_labels, fontsize=8.5)
    cb.tick_params(axis="y", length=4, color="#888888", pad=6)
    for s in cb.spines.values():
        s.set_visible(False)
    ov.text(cb_lab_x, 990, "\u2212log10(P\u2212value)", rotation=90, fontsize=8.5,
            ha="center", va="center")


interaction(88, int_genes_c, int_counts_c, int_rows_c, 432, 379, 348)
interaction(758, int_genes_d, int_counts_d, int_rows_d, 1101, 1047, 1017)

# ---------------- E ----------------
ax = px_axes(31, 1162, 296, 1365)
hi_vals = np.concatenate([hi_large, np.repeat(small_vals, hi_small_counts)]).astype(float)
lo_vals = np.concatenate([lo_large, np.repeat(small_vals, lo_small_counts)]).astype(float)
e_blue, e_red = "#2171E8", "#FF0000"
for vals, col, pos in [(hi_vals, e_blue, 1), (lo_vals, e_red, 2)]:
    ax.boxplot([vals], positions=[pos], widths=0.8, showfliers=False, showcaps=False, patch_artist=True,
               boxprops=dict(facecolor="white", edgecolor=col, linewidth=1.3),
               medianprops=dict(color=col, linewidth=1.3),
               whiskerprops=dict(color=col, linewidth=1.0))
    off = ((np.arange(len(vals)) * 0.618034) % 1 - 0.5) * 0.4
    ax.scatter(pos + off, vals, s=9, color=col, linewidths=0, zorder=3)
ax.plot([1, 1, 2, 2], [191, 198, 198, 191], color="black", lw=0.6)
ax.text(1.5, 200, "ns", ha="center", va="bottom", fontsize=7, family=NARROW)
ax.set_xlim(0.4, 2.6)
ax.set_ylim(-12, 207)
ax.set_xticks([1, 2])
ax.set_xticklabels(["high\u2212risk", "low\u2212risk"])
ax.set_yticks([0, 50, 100, 150, 200])
for k in ("top", "right"):
    ax.spines[k].set_visible(False)
for k in ("left", "bottom"):
    ax.spines[k].set_linewidth(0.7)
ax.tick_params(length=3, width=0.7, pad=2)
tick_font(ax, NARROW, 7.5)
ov.text(4, 1262, "TMB", rotation=90, fontsize=7, family=NARROW, ha="center", va="center")
ov.text(99, 1139, "risk", fontsize=7.5, family=NARROW, va="center")
for bx, col, lab in [(127, e_blue, "high\u2212risk"), (186, e_red, "low\u2212risk")]:
    ov.add_patch(Rectangle((bx - 5, 1134), 10, 10, fill=False, edgecolor=col, lw=0.8))
    ov.plot([bx - 5, bx + 5], [1139, 1139], color=col, lw=0.8)
    ov.plot([bx, bx], [1130, 1134], color=col, lw=0.8)
    ov.plot([bx, bx], [1144, 1148], color=col, lw=0.8)
    ov.text(bx + 10, 1139, lab, fontsize=7.5, family=NARROW, va="center")

# ---------------- F ----------------
ax = px_axes(431, 1132, 781, 1358)
f_blue, f_red = "#2A6FE8", "#F0141E"
meds = []
for t, s, tend, cens, col in [(km_hi_t, km_hi_s, km_hi_end, km_hi_cens, f_blue),
                              (km_lo_t, km_lo_s, km_lo_end, km_lo_cens, f_red)]:
    t = np.array(t)
    s = np.array(s)
    ax.step(np.append(t, tend), np.append(s, s[-1]), where="post", color=col, lw=1.2)
    idx = np.searchsorted(t, cens, side="right") - 1
    ax.plot(cens, s[idx], linestyle="none", marker="+", ms=5, mew=0.9, color=col)
    meds.append(t[np.argmax(s <= 0.5)])
ax.plot([0, max(meds)], [0.5, 0.5], color="black", ls=(0, (3, 3)), lw=0.8)
for m in meds:
    ax.plot([m, m], [0, 0.5], color="black", ls=(0, (3, 3)), lw=0.8)
ax.text(0.23, 0.19, "p=0.106", fontsize=13, family=NARROW, va="center")
ax.set_xlim(-0.6, 12.57)
ax.set_ylim(-0.053, 1.044)
ax.set_xticks(range(13))
ax.set_yticks([0, 0.25, 0.5, 0.75, 1.0])
ax.set_yticklabels(["0.00", "0.25", "0.50", "0.75", "1.00"])
for k in ("top", "right"):
    ax.spines[k].set_visible(False)
for k in ("left", "bottom"):
    ax.spines[k].set_linewidth(0.7)
ax.tick_params(length=3, width=0.7, pad=2)
tick_font(ax, NARROW, 8)
ov.text(606, 1381, "Time(years)", fontsize=9, family=NARROW, ha="center", va="center")
ov.text(393, 1244, "Survival probability", rotation=90, fontsize=9, family=NARROW,
        ha="center", va="center")
ov.text(679, 1157, "TMB", fontsize=7.5, family=NARROW, va="center")
for y, col, lab in [(1175, f_blue, "TMB\u2212high"), (1191, f_red, "TMB\u2212low")]:
    ov.plot([681, 694], [y, y], color=col, lw=1.2)
    ov.plot([687.5], [y], marker="+", ms=5, mew=0.9, color=col)
    ov.text(701, y, lab, fontsize=7.5, family=NARROW, va="center")

# ---------------- G ----------------
ax = px_axes(895, 1133, 1227, 1357)
for t, s, tend, cens, col in zip(g_t, g_s, g_end, g_cens, g_colors):
    t = np.array(t)
    s = np.array(s, float)
    ax.step(np.append(t, tend), np.append(s, s[-1]), where="post", color=col, lw=1.3)
    idx = np.searchsorted(t, cens, side="right") - 1
    ax.plot(cens, s[idx] + 1.2, linestyle="none", marker="|", ms=4, mew=1.0, color=col)
ax.text(1.27, 20.3, "P=0.0052", fontsize=10.5, family=SERIF, va="center")
ax.set_xlim(0, 15)
ax.set_ylim(0, 111)
ax.set_xticks([0, 5, 10, 15])
ax.set_xticks(range(16), minor=True)
ax.set_yticks([0, 50, 100])
for k in ("top", "right"):
    ax.spines[k].set_visible(False)
for k in ("left", "bottom"):
    ax.spines[k].set_linewidth(2.0)
ax.tick_params(which="major", length=6, width=1.6, pad=3)
ax.tick_params(which="minor", length=4, width=1.3)
tick_font(ax, SERIF, 10.5, "bold")
ov.text(1061, 1403, "Time (years)", fontsize=10.5, family=SERIF, fontweight="bold",
        ha="center", va="center")
ov.text(845, 1245, "Percent survival", rotation=90, fontsize=10.5, family=SERIF,
        fontweight="bold", ha="center", va="center")
for k, (lab, col) in enumerate(zip(g_labels, g_colors)):
    y = 1115 + 30 * k
    ov.plot([1113, 1135], [y, y], color=col, lw=1.5)
    ov.plot([1124, 1124], [y - 4, y], color=col, lw=1.2)
    ov.text(1149, y, lab, fontsize=10.5, family=SERIF, va="center")

# ---------------- H ----------------
ax = px_axes(140, 1468, 1287, 1585)
rh = 22 / 31.67
ax.set_xlim(0, h_ncols)
ax.set_ylim(3 + rh, 0)
ax.axis("off")
for k, (gene, spec, unp) in enumerate(zip(h_genes, h_specs, h_unprofiled)):
    cols = np.arange(h_ncols)
    prof = np.ones(h_ncols, bool)
    if unp is not None:
        prof[unp[0]:unp[1] + 1] = False
        for yy in (k + 0.03, k + rh - 0.03):
            ax.plot([unp[0], unp[1] + 1], [yy, yy], color="#C8C8C8", lw=0.6, ls=(0, (2, 2)))
    ax.bar(cols[prof], rh, bottom=k, width=0.78, align="edge", color="#BEBEBE", linewidth=0)
    row = parse_row(spec, h_ncols)
    for c in "AXFMST":
        xs = cols[np.array(row) == c]
        if len(xs) == 0:
            continue
        if c in "AX":
            ax.bar(xs, rh, bottom=k, width=0.78, align="edge", color=h_color[c], linewidth=0)
        else:
            ax.bar(xs, rh / 3, bottom=k + rh / 3, width=0.78, align="edge", color=h_color[c],
                   linewidth=0)
    yc = 1468 + (k + rh / 2) * 31.67
    ov.text(0, yc, gene, fontsize=17, family=SERIF, va="center", ha="left")
    ov.text(85, yc, h_pct[k], fontsize=17, family=SERIF, va="center", ha="left")
for lab, c, ix, tx in h_legend:
    if c in "AX":
        ov.add_patch(Rectangle((ix, 1615), 10, 33, color=h_color[c], lw=0))
    else:
        ov.add_patch(Rectangle((ix, 1615), 10, 33, color="#BEBEBE", lw=0))
        ov.add_patch(Rectangle((ix, 1627), 10, 11, color=h_color[c], lw=0))
    ov.text(tx, 1632, lab, fontsize=16.5, family=SERIF, va="center", ha="left")

# panel letters
for lab, x, y in [("A", 12, 14), ("B", 675, 15), ("C", 12, 562), ("D", 677, 562),
                  ("E", 11, 1118), ("F", 385, 1118), ("G", 841, 1118), ("H", 13, 1438)]:
    ov.text(x, y, lab, fontsize=19, fontweight="bold", ha="center", va="center")

fig.savefig("out.png", dpi=100)
